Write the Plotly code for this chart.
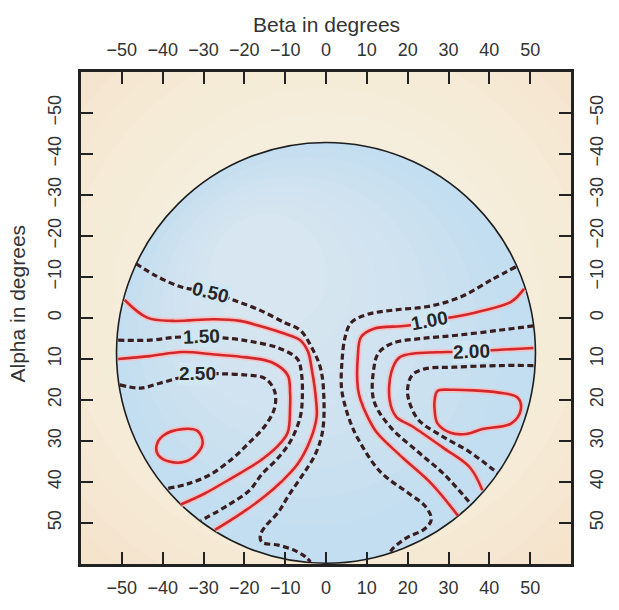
import plotly.graph_objects as go

# ---------------- data ----------------
tick_vals = [-50, -40, -30, -20, -10, 0, 10, 20, 30, 40, 50]
tick_text = ["−50", "−40", "−30", "−20", "−10", "0", "10", "20", "30", "40", "50"]

# field of view circle (beta centre, alpha centre, radius) in degrees
fov_beta_c = 0.0
fov_alpha_c = 8.5
fov_radius = 51.3

# contour lines (beta, alpha) - left group
l050_beta = [-46.6, -41.5, -35.2, -28.2, -22.7, -16.4, -10.2, -6.3, -3.5, -1.3, -0.5, -0.9, -2.7, -5.6, -9.1, -11.7, -15.0, -16.1, -15.7, -11.7, -7.9, -5.1, -3.8]
l050_alpha = [-13.3, -10.2, -7.5, -6.3, -4.4, -2.0, 1.1, 3.0, 7.2, 12.4, 20.1, 28.0, 33.4, 38.1, 43.2, 47.4, 51.0, 53.1, 54.7, 55.4, 56.6, 58.2, 59.5]

l100_beta = [-49.3, -43.8, -37.6, -27.4, -21.1, -16.4, -10.2, -6.3, -4.4, -3.5, -2.5, -2.3, -3.9, -7.0, -11.0, -15.0, -20.4, -27.2]
l100_alpha = [-4.4, -0.1, 0.7, 0.3, 0.7, 1.9, 3.8, 5.4, 8.2, 12.4, 19.4, 24.1, 29.9, 35.7, 40.0, 43.5, 47.4, 51.7]

l150_beta = [-50.9, -43.1, -36.8, -30.5, -23.5, -18.0, -11.7, -7.0, -6.0, -5.8, -6.3, -8.6, -11.7, -15.7, -18.8, -23.9, -30.6]
l150_alpha = [5.4, 5.4, 4.7, 4.6, 5.0, 5.8, 7.3, 10.0, 13.6, 19.4, 24.1, 29.9, 34.1, 38.1, 42.1, 45.6, 49.4]

l200_beta = [-50.9, -43.1, -35.2, -27.4, -19.6, -13.3, -9.4, -8.8, -8.8, -9.4, -12.1, -16.4, -22.7, -29.7, -35.6]
l200_alpha = [10.0, 9.3, 8.3, 8.9, 9.6, 10.8, 13.9, 18.2, 21.7, 28.0, 31.5, 35.0, 38.8, 42.8, 45.5]

l250_beta = [-50.5, -45.4, -40.7, -35.6, -31.4, -25.8, -19.6, -15.0, -12.6, -12.6, -15.0, -18.8, -22.7, -28.2, -33.7, -38.9]
l250_alpha = [16.3, 17.1, 15.9, 14.5, 13.6, 13.6, 13.9, 14.7, 17.8, 22.0, 26.4, 30.4, 34.1, 38.1, 40.4, 41.6]

l300_beta = [-41.5, -39.9, -35.2, -31.4, -30.2, -31.4, -34.4, -38.4, -41.1, -41.5]
l300_alpha = [31.1, 28.7, 27.1, 27.6, 30.4, 32.9, 35.0, 35.0, 33.4, 31.1]

# contour lines (beta, alpha) - right group
r050_beta = [46.5, 40.7, 32.9, 25.0, 17.2, 10.2, 6.2, 4.7, 3.9, 3.8, 4.7, 6.0, 7.8, 13.2, 20.3, 24.2, 25.8, 24.2, 19.6, 16.4, 15.6]
r050_alpha = [-12.5, -9.4, -5.1, -2.8, -2.0, -0.9, 1.1, 4.6, 10.8, 17.1, 21.5, 25.5, 29.4, 37.4, 42.8, 45.8, 49.1, 51.4, 53.7, 56.2, 57.3]

r100_beta = [48.5, 45.4, 37.6, 30.5, 25.4, 19.6, 11.7, 8.6, 7.8, 7.8, 8.5, 10.2, 12.5, 18.8, 25.8, 32.3]
r100_alpha = [-7.1, -4.0, -1.6, -0.1, 0.7, 1.9, 2.6, 4.6, 9.3, 17.1, 20.1, 24.1, 28.0, 34.1, 40.4, 48.2]

r150_beta = [50.8, 42.3, 32.1, 23.5, 16.4, 12.9, 11.7, 11.7, 15.6, 22.6, 28.9, 35.5]
r150_alpha = [1.9, 3.0, 4.2, 5.0, 6.1, 8.5, 12.4, 20.1, 26.4, 32.7, 38.1, 45.4]

r200_beta = [50.8, 35.6, 29.7, 21.9, 18.0, 16.0, 15.6, 17.2, 21.1, 28.9, 35.2, 38.3]
r200_alpha = [7.3, 8.1, 8.3, 8.6, 9.6, 13.2, 20.1, 24.1, 26.4, 31.8, 36.4, 42.0]

r250_beta = [50.8, 42.3, 31.3, 24.2, 21.1, 20.0, 20.3, 22.6, 28.2, 35.2, 42.0]
r250_alpha = [11.6, 11.6, 12.0, 12.4, 13.9, 17.1, 20.1, 24.8, 28.7, 32.7, 37.8]

r300_beta = [26.6, 27.3, 30.5, 42.3, 46.9, 47.7, 45.4, 38.3, 34.3, 30.5, 27.3, 26.6, 26.6]
r300_alpha = [20.1, 17.8, 17.5, 18.2, 19.4, 22.4, 25.7, 27.1, 28.3, 28.0, 25.7, 22.4, 20.1]

# contour labels
label_text = ["0.50", "1.50", "2.50", "1.00", "2.00"]
label_beta = [-28.2, -30.5, -31.4, 25.4, 35.6]
label_alpha = [-6.3, 4.6, 13.6, 0.7, 8.1]
label_angle = [14, -2, 0, -11, -2]

# ---------------- styles ----------------
FONT = "Liberation Sans, Arial, Helvetica, sans-serif"
DASH_COLOR = "#3a1d1f"
RED_COLOR = "#d2282b"
HALO_COLOR = "rgba(255,185,185,0.75)"
AXIS_COLOR = "#222222"
TEXT_COLOR = "#333333"

dashed_lines = [
    (l050_beta, l050_alpha), (l150_beta, l150_alpha), (l250_beta, l250_alpha),
    (r050_beta, r050_alpha), (r150_beta, r150_alpha), (r250_beta, r250_alpha),
]
solid_lines = [
    (l100_beta, l100_alpha), (l200_beta, l200_alpha), (l300_beta, l300_alpha),
    (r100_beta, r100_alpha), (r200_beta, r200_alpha), (r300_beta, r300_alpha),
]

fig = go.Figure()

for bx, ay in solid_lines:
    fig.add_trace(go.Scatter(x=bx, y=ay, mode="lines", hoverinfo="skip",
                             line=dict(color=HALO_COLOR, width=6, shape="spline", smoothing=1.0),
                             showlegend=False))
for bx, ay in solid_lines:
    fig.add_trace(go.Scatter(x=bx, y=ay, mode="lines",
                             line=dict(color=RED_COLOR, width=2.6, shape="spline", smoothing=1.0),
                             showlegend=False))
for bx, ay in dashed_lines:
    fig.add_trace(go.Scatter(x=bx, y=ay, mode="lines",
                             line=dict(color=DASH_COLOR, width=3.2, dash="6px,3.5px",
                                       shape="spline", smoothing=1.0),
                             showlegend=False))

# invisible trace on the secondary (top/right) axes so they get drawn
fig.add_trace(go.Scatter(x=[0], y=[0], xaxis="x2", yaxis="y2", mode="markers",
                         marker=dict(opacity=0), hoverinfo="skip", showlegend=False))

# ---------------- background shapes ----------------
shapes = []
# soft lighter glow in the tan background (many faint rings -> smooth gradient)
for i in range(10):
    r = 100 - i * 6
    shapes.append(dict(type="circle", xref="x", yref="y", layer="below",
                       x0=-r, x1=r, y0=-4 - r, y1=-4 + r,
                       fillcolor="rgba(255,252,247,0.09)", line=dict(width=0)))
# field of view circle
shapes.append(dict(type="circle", xref="x", yref="y", layer="below",
                   x0=fov_beta_c - fov_radius, x1=fov_beta_c + fov_radius,
                   y0=fov_alpha_c - fov_radius, y1=fov_alpha_c + fov_radius,
                   fillcolor="#c3def0", line=dict(width=0)))
for i in range(8):
    rr = 46 - i * 4.5
    dx = -3 - i * 1.6
    dy = -4 - i * 2.2
    shapes.append(dict(type="circle", xref="x", yref="y", layer="below",
                       x0=fov_beta_c + dx - rr, x1=fov_beta_c + dx + rr,
                       y0=fov_alpha_c + dy - rr, y1=fov_alpha_c + dy + rr,
                       fillcolor="rgba(255,255,255,0.06)", line=dict(width=0)))
shapes.append(dict(type="circle", xref="x", yref="y", layer="below",
                   x0=fov_beta_c - fov_radius, x1=fov_beta_c + fov_radius,
                   y0=fov_alpha_c - fov_radius, y1=fov_alpha_c + fov_radius,
                   fillcolor="rgba(0,0,0,0)", line=dict(color="#1e1e1e", width=1.6)))

annotations = []
for t, bx, ay, ang in zip(label_text, label_beta, label_alpha, label_angle):
    annotations.append(dict(x=bx, y=ay, xref="x", yref="y", text=t, showarrow=False,
                            textangle=ang, bgcolor="#d1e6f3", borderpad=0,
                            font=dict(family=FONT, size=19, color="#262626", weight="bold")))
annotations.append(dict(x=0.5, y=1.096, xref="paper", yref="paper", text="Beta in degrees",
                        showarrow=False, xanchor="center", yanchor="middle",
                        font=dict(family=FONT, size=21, color=TEXT_COLOR)))
annotations.append(dict(x=-0.13, y=0.53, xref="paper", yref="paper", text="Alpha in degrees",
                        showarrow=False, xanchor="center", yanchor="middle", textangle=-90,
                        font=dict(family=FONT, size=21, color=TEXT_COLOR)))

axis_common = dict(tickvals=tick_vals, ticktext=tick_text, ticks="inside", ticklen=12,
                   tickwidth=2, tickcolor=AXIS_COLOR, showline=True, linewidth=2.6,
                   linecolor=AXIS_COLOR, showgrid=False, zeroline=False,
                   tickfont=dict(family=FONT, size=18, color=TEXT_COLOR))

fig.update_layout(
    width=619, height=610,
    margin=dict(l=81, r=27, t=72, b=28),
    paper_bgcolor="white",
    plot_bgcolor="#f3dcbf",
    showlegend=False,
    shapes=shapes,
    annotations=annotations,
    xaxis=dict(range=[-60, 60], side="bottom", ticklabelstandoff=6, **axis_common),
    xaxis2=dict(range=[-60, 60], side="top", overlaying="x", matches="x", anchor="y",
                ticklabelstandoff=6, **axis_common),
    yaxis=dict(range=[60, -60], side="left", tickangle=-90, ticklabelstandoff=10, **axis_common),
    yaxis2=dict(range=[60, -60], side="right", overlaying="y", matches="y", anchor="x",
                tickangle=-90, ticklabelstandoff=8, **axis_common),
)

fig.write_html("out.html")
